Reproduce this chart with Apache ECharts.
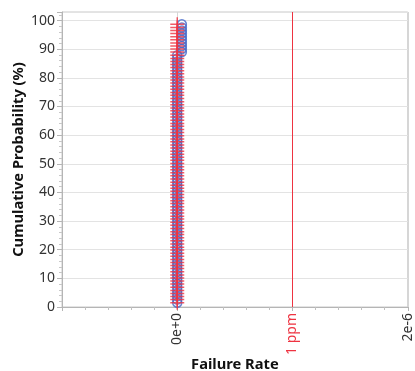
<!DOCTYPE html>
<html>
<head>
<meta charset="utf-8">
<script src="https://cdn.jsdelivr.net/npm/echarts@6/dist/echarts.min.js"></script>
<style>
  html, body { margin: 0; padding: 0; background: #fff; }
  #chart { width: 415px; height: 371px; }
</style>
</head>
<body>
<div id="chart"></div>
<script>
// Cumulative probability (%) of each observation, shared by both groups
const cumProb = [
  1.5, 2.6, 3.7, 4.7, 5.8, 6.9, 8.0, 9.1, 10.1, 11.2,
  12.3, 13.4, 14.5, 15.5, 16.6, 17.7, 18.8, 19.9, 20.9, 22.0,
  23.1, 24.2, 25.3, 26.3, 27.4, 28.5, 29.6, 30.7, 31.7, 32.8,
  33.9, 35.0, 36.1, 37.1, 38.2, 39.3, 40.4, 41.5, 42.5, 43.6,
  44.7, 45.8, 46.9, 47.9, 49.0, 50.1, 51.2, 52.3, 53.3, 54.4,
  55.5, 56.6, 57.7, 58.7, 59.8, 60.9, 62.0, 63.1, 64.1, 65.2,
  66.3, 67.4, 68.5, 69.5, 70.6, 71.7, 72.8, 73.9, 74.9, 76.0,
  77.1, 78.2, 79.3, 80.3, 81.4, 82.5, 83.6, 84.7, 85.7, 86.8,
  87.9, 89.0, 90.1, 91.1, 92.2, 93.3, 94.4, 95.5, 96.5, 97.6,
  98.7
];

// Failure rate of the "+" group
const rateCross = [
  0, 0, 0, 0, 0, 0, 0, 0, 0, 0,
  0, 0, 0, 0, 0, 0, 0, 0, 0, 0,
  0, 0, 0, 0, 0, 0, 0, 0, 0, 0,
  0, 0, 0, 0, 0, 0, 0, 0, 0, 0,
  0, 0, 0, 0, 0, 0, 0, 0, 0, 0,
  0, 0, 0, 0, 0, 0, 0, 0, 0, 0,
  0, 0, 0, 0, 0, 0, 0, 0, 0, 0,
  0, 0, 0, 0, 0, 0, 0, 0, 0, 0,
  0, 0, 0, 0, 0, 0, 0, 0, 0, 0,
  0
];

// Failure rate of the "o" group
const rateCircle = [
  0, 0, 0, 0, 0, 0, 0, 0, 0, 0,
  0, 0, 0, 0, 0, 0, 0, 0, 0, 0,
  0, 0, 0, 0, 0, 0, 0, 0, 0, 0,
  0, 0, 0, 0, 0, 0, 0, 0, 0, 0,
  0, 0, 0, 0, 0, 0, 0, 0, 0, 0,
  0, 0, 0, 0, 0, 0, 0, 0, 0, 0,
  0, 0, 0, 0, 0, 0, 0, 0, 0, 0,
  0, 0, 0, 0, 0, 0, 0, 0, 0, 0,
  0, 4e-8, 4e-8, 4e-8, 4e-8, 4e-8, 4e-8, 4e-8, 4e-8, 4e-8,
  4e-8
];

// Labelled x ticks and the reference limit
const xTickValues = [0, 1e-6, 2e-6];
const xTickLabels = ['0e+0', '1 ppm', '2e-6'];
const limitRate = 1e-6;
const limitSpan = [0, 103];

const RED = '#ee3341';
const BLUE = '#4267c8';

const crossData = cumProb.map((p, i) => [rateCross[i], p]);
const circleData = cumProb.map((p, i) => [rateCircle[i], p]);
const limitData = limitSpan.map(p => [limitRate, p]);

const chart = echarts.init(document.getElementById('chart'), null, { renderer: 'canvas' });

chart.setOption({
  backgroundColor: '#fff',
  animation: false,
  textStyle: { fontFamily: 'Noto Sans' },
  grid: {
    left: 62, right: 7.25, top: 12, bottom: 64,
    show: true, borderColor: '#c9c9c9', borderWidth: 1,
    containLabel: false, outerBoundsMode: 'none'
  },
  xAxis: {
    type: 'value',
    min: -1e-6, max: 2e-6, interval: 1e-6,
    name: 'Failure Rate',
    nameLocation: 'middle',
    nameGap: 50,
    nameMoveOverlap: false,
    nameTextStyle: { fontFamily: 'Noto Sans', fontWeight: 'bold', fontSize: 14.7, color: '#111' },
    axisLine: { show: true, onZero: false, lineStyle: { color: '#b5b5b5' } },
    axisTick: { show: true, length: 4, lineStyle: { color: '#b5b5b5' } },
    minorTick: { show: true, splitNumber: 5, length: 3, lineStyle: { color: '#c0c0c0' } },
    splitLine: { show: true, lineStyle: { color: '#d6d6d6' } },
    axisLabel: {
      rotate: 90, fontSize: 14, color: '#333', margin: 6,
      formatter: function (v) {
        for (let k = 0; k < xTickValues.length; k++) {
          if (Math.abs(v - xTickValues[k]) < 1e-12) {
            return xTickValues[k] === limitRate ? '{r|' + xTickLabels[k] + '}' : xTickLabels[k];
          }
        }
        return '';
      },
      rich: { r: { color: RED, fontSize: 14, fontFamily: 'Noto Sans' } }
    }
  },
  yAxis: {
    type: 'value',
    min: 0, max: 103, interval: 10,
    name: 'Cumulative Probability (%)',
    nameLocation: 'middle',
    nameGap: 36,
    nameMoveOverlap: false,
    nameTextStyle: { fontFamily: 'Noto Sans', fontWeight: 'bold', fontSize: 14.7, color: '#111' },
    axisLine: { show: true, onZero: false, lineStyle: { color: '#b5b5b5' } },
    axisTick: { show: true, length: 5, lineStyle: { color: '#b5b5b5' } },
    minorTick: { show: true, splitNumber: 5, length: 3, lineStyle: { color: '#c8c8c8' } },
    splitLine: { show: true, lineStyle: { color: '#e3e3e3' } },
    axisLabel: {
      fontSize: 14, color: '#333', margin: 7,
      formatter: function (v) { return (Math.round(v) % 10 === 0 && v <= 100) ? String(Math.round(v)) : ''; }
    }
  },
  series: [
    {
      name: 'limit',
      type: 'line',
      data: limitData,
      symbol: 'none',
      itemStyle: { color: RED },
      lineStyle: { color: RED, width: 1 },
      silent: true,
      z: 2
    },
    {
      name: 'o',
      type: 'scatter',
      data: circleData,
      symbol: 'circle',
      symbolSize: 9,
      itemStyle: { color: 'rgba(0,0,0,0)', borderColor: BLUE, borderWidth: 1.5 },
      z: 3
    },
    {
      name: '+',
      type: 'scatter',
      data: crossData,
      symbol: 'path://M0,5L10,5M5,0L5,10',
      symbolSize: 14,
      itemStyle: { color: 'rgba(0,0,0,0)', borderColor: RED, borderWidth: 1.5 },
      z: 4
    }
  ]
});
</script>
</body>
</html>
